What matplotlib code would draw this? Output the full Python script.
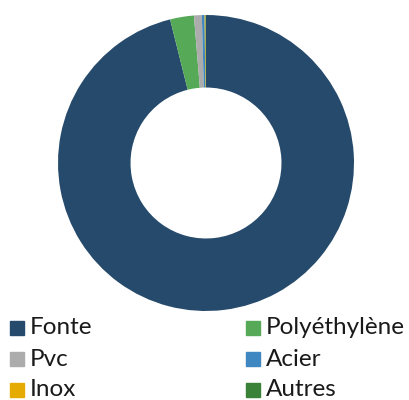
import matplotlib
matplotlib.use("Agg")
import matplotlib.pyplot as plt
from matplotlib.patches import Rectangle

# donut: pipe material shares
labels = ["Fonte", "Polyéthylène", "Pvc", "Acier", "Inox", "Autres"]
values = [96.1, 2.6, 0.85, 0.3, 0.1, 0.05]
colors = ["#264a6b", "#56a957", "#acacac", "#3f87c0", "#e6ab02", "#3a8238"]

plt.rcParams['font.family'] = ['Lato', 'DejaVu Sans']

W, H = 410, 400
fig = plt.figure(figsize=(W/100, H/100), dpi=100)
ax = fig.add_axes([58/W, 89/H, 296/W, 296/H])
wedges, _ = ax.pie(values, colors=colors, startangle=90, counterclock=False,
                   wedgeprops=dict(width=0.49, linewidth=0))
ax.set_xlim(-1, 1)
ax.set_ylim(-1, 1)
ax.set_aspect('equal')

# legend, two columns filled row by row
col_x = [10, 246]
row_y = [328, 359, 390]
for i, (lab, c) in enumerate(zip(labels, colors)):
    x = col_x[i % 2]
    y = row_y[i // 2]
    fig.patches.append(Rectangle((x/W, (H - y - 7)/H), 14/W, 14/H, color=c,
                                 transform=fig.transFigure, figure=fig))
    fig.text((x + 20)/W, (H - y)/H, lab, fontsize=17.5, va='center', ha='left',
             color='#1a1a1a')

fig.savefig("out.png", dpi=100)
